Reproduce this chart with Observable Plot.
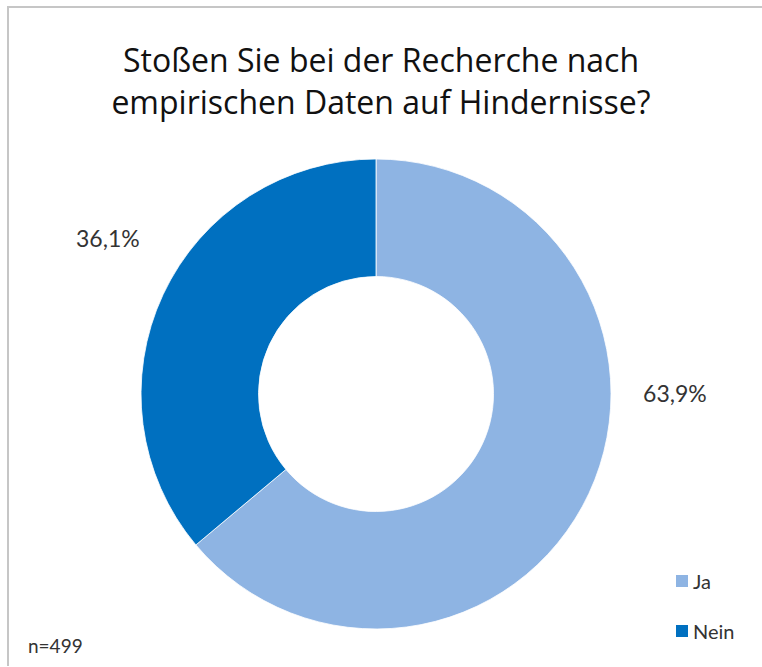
<!DOCTYPE html>
<html>
<head>
<meta charset="utf-8">
<script src="https://cdn.jsdelivr.net/npm/d3@7"></script>
<script src="https://cdn.jsdelivr.net/npm/@observablehq/plot@0.6"></script>
<style>
  html, body { margin: 0; padding: 0; background: #fff; }
  #wrap { position: relative; width: 762px; height: 667px; overflow: hidden; font-family: Lato, "Open Sans", sans-serif; color: #222; }
  #frame { position: absolute; left: 7px; top: 6px; width: 800px; height: 658px; border-left: 2px solid #c6c6c6; border-top: 2px solid #c6c6c6; }
  #title { position: absolute; left: 0; width: 762px; top: 39px; text-align: center; font-family: "Open Sans", sans-serif; font-size: 32px; line-height: 42px; color: #111; }
  #chart { position: absolute; left: 0; top: 0; }
  #legend { position: absolute; left: 676px; top: 568px; font-size: 20px; color: #333; }
  .li { display: flex; align-items: center; height: 26px; margin-bottom: 24px; }
  .sw { width: 12px; height: 12px; margin-right: 5px; }
  #note { position: absolute; left: 28px; top: 634px; font-size: 19px; color: #333; }
</style>
</head>
<body>
<div id="wrap">
  <div id="frame"></div>
  <div id="chart"></div>
  <div id="title">Stoßen Sie bei der Recherche nach<br>empirischen Daten auf Hindernisse?</div>
  <div id="legend"></div>
  <div id="note">n=499</div>
</div>
<script>
// Data
const categories = ["Ja", "Nein"];
const values = [63.9, 36.1];
const labels = ["63,9%", "36,1%"];
const colors = ["#8EB4E3", "#0070C0"];
// label placement (angle in degrees clockwise from 12 o'clock, radius relative to outer radius)
const labelAngles = [90, 300];
const labelRadii = [1.27, 1.32];
const note = "n=499";

const W = 762, H = 667;
const cx = 376, cy = 394, R = 235;
const innerRatio = 0.5;

const data = categories.map((c, i) => ({ category: c, value: values[i], label: labels[i], color: colors[i] }));
const pie = d3.pie().value(d => d.value).sort(null)(data);

const labelData = data.map((d, i) => {
  const a = labelAngles[i] * Math.PI / 180;
  return { ...d, lx: Math.sin(a) * labelRadii[i], ly: -Math.cos(a) * labelRadii[i] };
});

function donutMark(index, scales) {
  const x0 = scales.x(0), y0 = scales.y(0);
  const r = scales.x(1) - scales.x(0);
  const arc = d3.arc().outerRadius(r).innerRadius(r * innerRatio);
  const g = d3.create("svg:g").attr("transform", `translate(${x0},${y0})`);
  g.selectAll("path").data(pie).join("path")
    .attr("d", arc)
    .attr("fill", d => d.data.color)
    .attr("stroke", "#fff")
    .attr("stroke-width", 0.8);
  return g.node();
}

const chart = Plot.plot({
  width: W,
  height: H,
  margin: 0,
  x: { domain: [-cx / R, (W - cx) / R], range: [0, W], axis: null },
  y: { domain: [-cy / R, (H - cy) / R], range: [0, H], axis: null },
  marks: [
    donutMark,
    Plot.text(labelData, {
      x: "lx", y: "ly", text: "label",
      fontSize: 23, fill: "#333", fontFamily: "Lato, 'Open Sans', sans-serif",
      textAnchor: "middle", lineAnchor: "middle"
    })
  ]
});
document.getElementById("chart").appendChild(chart);

const legend = document.getElementById("legend");
categories.forEach((c, i) => {
  const li = document.createElement("div");
  li.className = "li";
  li.innerHTML = `<span class="sw" style="background:${colors[i]}"></span><span>${c}</span>`;
  legend.appendChild(li);
});
document.getElementById("note").textContent = note;
</script>
</body>
</html>
